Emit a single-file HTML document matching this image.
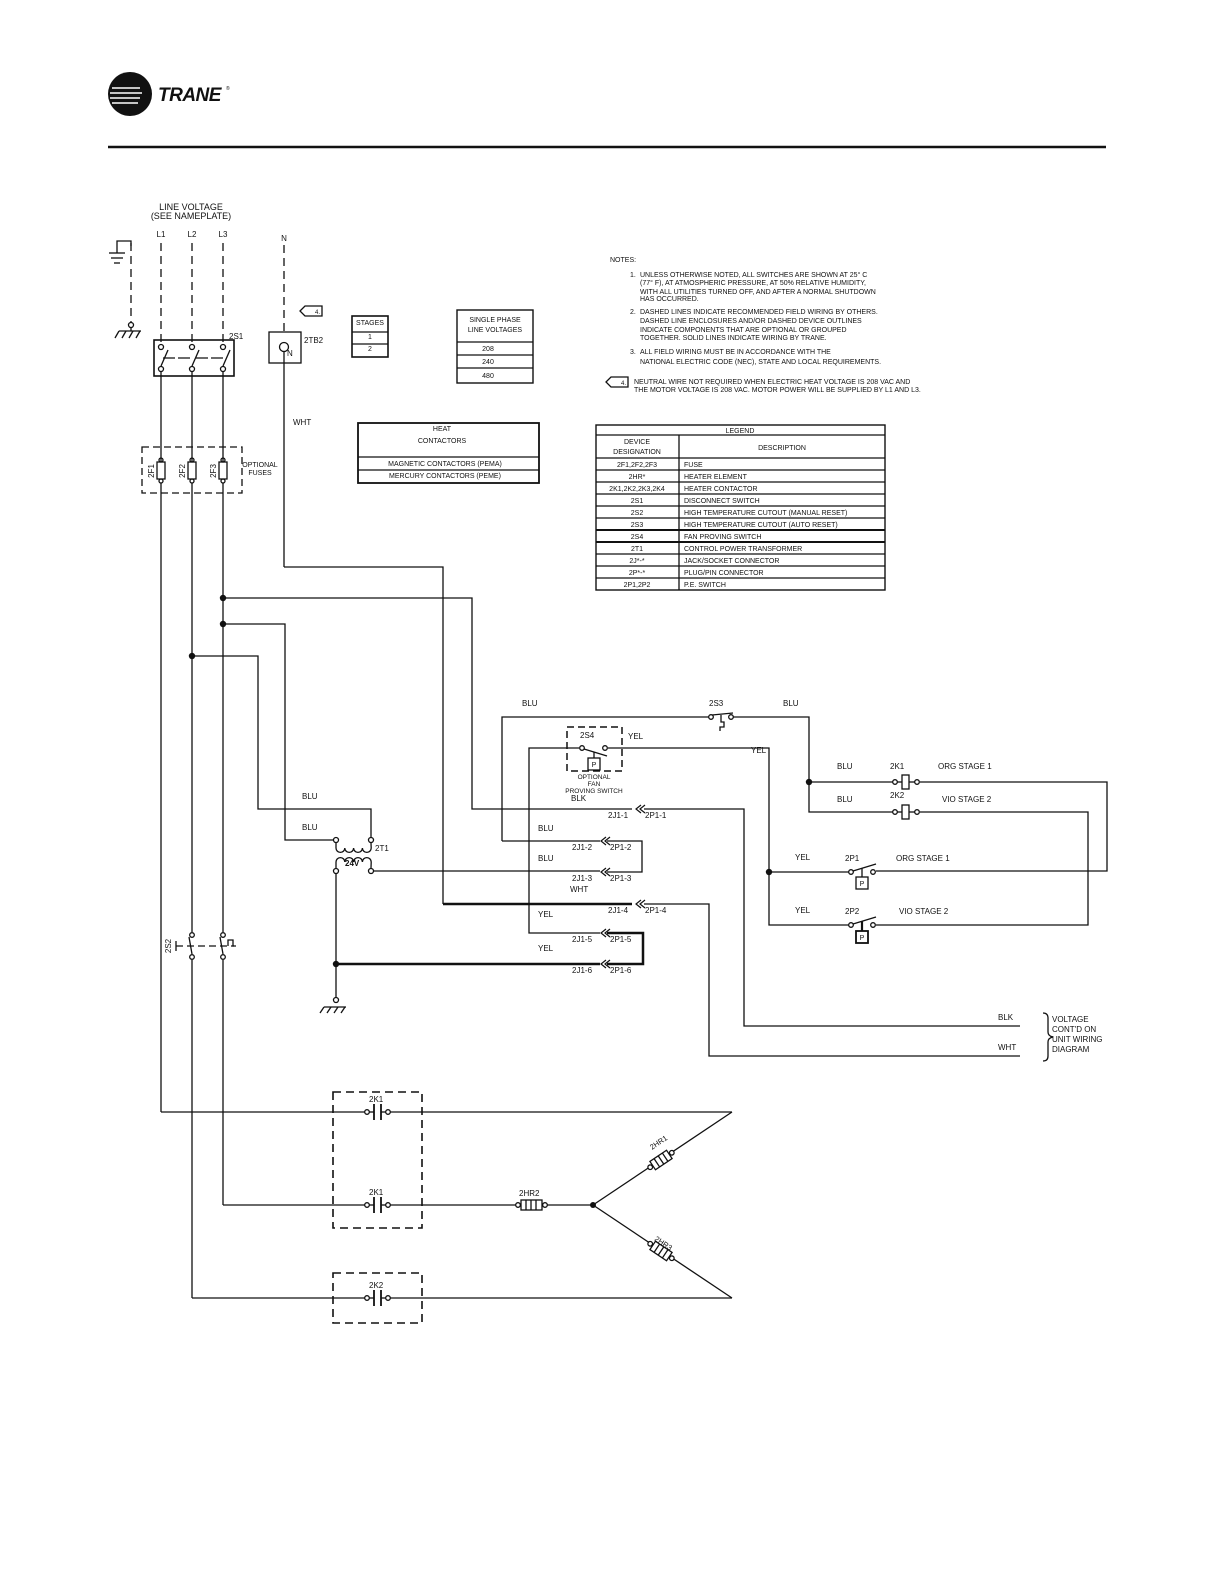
<!DOCTYPE html>
<html><head><meta charset="utf-8"><style>
html,body{margin:0;padding:0;background:#fff;}
svg{display:block;}
text{font-family:"Liberation Sans",sans-serif;fill:#111;}
</style></head><body>
<svg width="1224" height="1584" viewBox="0 0 1224 1584" xmlns="http://www.w3.org/2000/svg">
<!-- logo -->
<circle cx="130" cy="94" r="22" fill="#111"/>
<g stroke="#fff" stroke-width="1.6">
<line x1="112" y1="88" x2="140" y2="88"/><line x1="110" y1="93" x2="142" y2="93"/><line x1="110" y1="98" x2="140" y2="98"/><line x1="112" y1="103" x2="138" y2="103"/>
</g>
<text x="158" y="101" font-size="19" font-weight="bold" font-style="italic" letter-spacing="-0.5">TRANE</text>
<text x="226" y="90" font-size="5">®</text>
<line x1="108" y1="147" x2="1106" y2="147" stroke="#111" stroke-width="2.5"/>

<g fill="none" stroke="#111" stroke-width="1.3">
<g stroke-dasharray="8,5">
<line x1="161" y1="243" x2="161" y2="344"/><line x1="192" y1="243" x2="192" y2="344"/><line x1="223" y1="243" x2="223" y2="344"/>
<line x1="284" y1="245" x2="284" y2="332"/>
<line x1="131" y1="243" x2="131" y2="322"/>
</g>
<polyline points="117,253 117,241 131,241 131,246"/>
<line x1="109" y1="253" x2="125" y2="253"/><line x1="111" y1="258" x2="123" y2="258"/><line x1="114" y1="263" x2="120" y2="263"/>
<circle cx="131" cy="325" r="2.5"/>
<line x1="119" y1="331" x2="141" y2="331"/><line x1="119" y1="331" x2="115" y2="338"/><line x1="126" y1="331" x2="122" y2="338"/><line x1="133" y1="331" x2="129" y2="338"/><line x1="140" y1="331" x2="136" y2="338"/><line x1="131" y1="328" x2="131" y2="331"/>
<rect x="154" y="340" width="80" height="36" stroke-width="1.6"/>
<circle cx="161" cy="347" r="2.5"/><circle cx="192" cy="347" r="2.5"/><circle cx="223" cy="347" r="2.5"/>
<circle cx="161" cy="369" r="2.5"/><circle cx="192" cy="369" r="2.5"/><circle cx="223" cy="369" r="2.5"/>
<line x1="161" y1="366" x2="168" y2="350"/><line x1="192" y1="366" x2="199" y2="350"/><line x1="223" y1="366" x2="230" y2="350"/>
<line x1="163" y1="358" x2="193" y2="358" stroke-dasharray="12,3"/><line x1="196" y1="358" x2="225" y2="358" stroke-dasharray="12,3"/>
<line x1="161" y1="372" x2="161" y2="462"/><line x1="192" y1="372" x2="192" y2="462"/><line x1="223" y1="372" x2="223" y2="462"/>
<rect x="142" y="447" width="100" height="46" stroke-dasharray="7,4"/>
<rect x="157" y="462" width="8" height="17"/><rect x="188" y="462" width="8" height="17"/><rect x="219" y="462" width="8" height="17"/>
<circle cx="161" cy="460" r="2"/><circle cx="192" cy="460" r="2"/><circle cx="223" cy="460" r="2"/>
<circle cx="161" cy="481" r="2"/><circle cx="192" cy="481" r="2"/><circle cx="223" cy="481" r="2"/>
<line x1="161" y1="483" x2="161" y2="1112"/>
<line x1="192" y1="483" x2="192" y2="932"/><line x1="192" y1="960" x2="192" y2="1298"/>
<line x1="223" y1="483" x2="223" y2="932"/><line x1="223" y1="960" x2="223" y2="1205"/>
<circle cx="192" cy="935" r="2.3"/><circle cx="192" cy="957" r="2.3"/><circle cx="223" cy="935" r="2.3"/><circle cx="223" cy="957" r="2.3"/>
<line x1="192" y1="954" x2="189" y2="937"/><line x1="223" y1="954" x2="220" y2="937"/>
<line x1="176" y1="946" x2="234" y2="946" stroke-dasharray="7,4"/>
<line x1="176" y1="941" x2="176" y2="951"/>
<polyline points="228,946 228,940 233,940 233,946 236,946"/>
<rect x="269" y="332" width="32" height="31"/>
<circle cx="284" cy="347" r="4.5"/>
<line x1="284" y1="352" x2="284" y2="567"/>
<polyline points="284,567 443,567 443,904"/>
<path d="M300,311 L305,306 L322,306 L322,316 L305,316 Z"/>
<polyline points="223,598 472,598 472,809 632,809"/>
<polyline points="223,624 285,624 285,840 333,840"/>
<polyline points="192,656 258,656 258,809 371,809 371,837"/>
<circle cx="336" cy="840" r="2.5"/><circle cx="371" cy="840" r="2.5"/>
<circle cx="336" cy="871" r="2.5"/><circle cx="371" cy="871" r="2.5"/>
<path d="M336,843 L336,848 a4.4,4.4 0 0 0 8.8,0 a4.4,4.4 0 0 0 8.8,0 a4.4,4.4 0 0 0 8.8,0 a4.4,4.4 0 0 0 8.8,0 L371,843"/>
<path d="M336,868 L336,862 a4.4,4.4 0 0 1 8.8,0 a4.4,4.4 0 0 1 8.8,0 a4.4,4.4 0 0 1 8.8,0 a4.4,4.4 0 0 1 8.8,0 L371,868"/>
<line x1="374" y1="871" x2="600" y2="871"/>
<line x1="336" y1="874" x2="336" y2="997"/>
<circle cx="336" cy="1000" r="2.5"/>
<line x1="324" y1="1007" x2="346" y2="1007"/><line x1="324" y1="1007" x2="320" y2="1013"/><line x1="331" y1="1007" x2="327" y2="1013"/><line x1="338" y1="1007" x2="334" y2="1013"/><line x1="345" y1="1007" x2="341" y2="1013"/>
<polyline points="502,841 502,717 709,717"/>
<line x1="502" y1="841" x2="600" y2="841"/>
<polyline points="607,841 642,841 642,872 607,872"/>
<polyline points="644,809 744,809 744,1026 1020,1026"/>
<line x1="443" y1="904" x2="632" y2="904" stroke-width="2.5"/>
<polyline points="644,904 709,904 709,1056 1020,1056"/>
<polyline points="600,933 529,933 529,748 579,748"/>
<line x1="336" y1="964" x2="600" y2="964" stroke-width="2.5"/>
<polyline points="607,933 643,933 643,964 607,964" stroke-width="2.5"/>
<g stroke-width="1.2">
<path d="M641,805 L636,809 L641,813 M645,805 L640,809 L645,813"/>
<path d="M606,837 L601,841 L606,845 M610,837 L605,841 L610,845"/>
<path d="M606,868 L601,872 L606,876 M610,868 L605,872 L610,876"/>
<path d="M641,900 L636,904 L641,908 M645,900 L640,904 L645,908"/>
<path d="M606,929 L601,933 L606,937 M610,929 L605,933 L610,937"/>
<path d="M606,960 L601,964 L606,968 M610,960 L605,964 L610,968"/>
</g>
<circle cx="711" cy="717" r="2.3"/><circle cx="731" cy="717" r="2.3"/>
<line x1="712" y1="715" x2="733" y2="713"/>
<polyline points="721,715 721,722 724,722 724,727 720,727 720,731"/>
<polyline points="733,717 809,717 809,812 893,812"/>
<line x1="809" y1="782" x2="893" y2="782"/>
<rect x="567" y="727" width="55" height="44" stroke-dasharray="7,4" stroke-width="1.5"/>
<circle cx="582" cy="748" r="2.3"/><circle cx="605" cy="748" r="2.3"/>
<line x1="584" y1="749" x2="607" y2="756"/>
<line x1="594" y1="752" x2="594" y2="758"/>
<rect x="588" y="758" width="12" height="12"/>
<polyline points="608,748 769,748 769,925 849,925"/>
<line x1="769" y1="872" x2="849" y2="872"/>
<circle cx="895" cy="782" r="2.3"/><rect x="902" y="775" width="7" height="14"/><circle cx="917" cy="782" r="2.3"/>
<line x1="897" y1="782" x2="902" y2="782"/><line x1="909" y1="782" x2="915" y2="782"/>
<polyline points="920,782 1107,782 1107,871 876,871"/>
<circle cx="895" cy="812" r="2.3"/><rect x="902" y="805" width="7" height="14"/><circle cx="917" cy="812" r="2.3"/>
<line x1="897" y1="812" x2="902" y2="812"/><line x1="909" y1="812" x2="915" y2="812"/>
<polyline points="920,812 1088,812 1088,925 876,925"/>
<circle cx="851" cy="872" r="2.3"/><circle cx="873" cy="872" r="2.3"/>
<line x1="853" y1="871" x2="876" y2="864"/><line x1="862" y1="868" x2="862" y2="877"/><rect x="856" y="877" width="12" height="12"/>
<circle cx="851" cy="925" r="2.3"/><circle cx="873" cy="925" r="2.3"/>
<line x1="853" y1="924" x2="876" y2="917"/><line x1="862" y1="921" x2="862" y2="931" stroke-width="2.2"/><rect x="856" y="931" width="12" height="12" stroke-width="1.8"/>
<path d="M1043,1013 q5,0 5,5 v14 q0,4 5,5 q-5,1 -5,5 v14 q0,5 -5,5"/>
<rect x="333" y="1092" width="89" height="136" stroke-dasharray="8,5" stroke-width="1.6"/>
<rect x="333" y="1273" width="89" height="50" stroke-dasharray="8,5" stroke-width="1.6"/>
<line x1="161" y1="1112" x2="365" y2="1112"/><line x1="390" y1="1112" x2="732" y2="1112"/>
<line x1="223" y1="1205" x2="365" y2="1205"/><line x1="390" y1="1205" x2="516" y2="1205"/>
<line x1="192" y1="1298" x2="365" y2="1298"/><line x1="390" y1="1298" x2="732" y2="1298"/>
<g>
<circle cx="367" cy="1112" r="2.3"/><circle cx="388" cy="1112" r="2.3"/><line x1="369" y1="1112" x2="374" y2="1112"/><line x1="381" y1="1112" x2="386" y2="1112"/><line x1="374" y1="1104" x2="374" y2="1120" stroke-width="1.8"/><line x1="381" y1="1104" x2="381" y2="1120" stroke-width="1.8"/>
<circle cx="367" cy="1205" r="2.3"/><circle cx="388" cy="1205" r="2.3"/><line x1="369" y1="1205" x2="374" y2="1205"/><line x1="381" y1="1205" x2="386" y2="1205"/><line x1="374" y1="1197" x2="374" y2="1213" stroke-width="1.8"/><line x1="381" y1="1197" x2="381" y2="1213" stroke-width="1.8"/>
<circle cx="367" cy="1298" r="2.3"/><circle cx="388" cy="1298" r="2.3"/><line x1="369" y1="1298" x2="374" y2="1298"/><line x1="381" y1="1298" x2="386" y2="1298"/><line x1="374" y1="1290" x2="374" y2="1306" stroke-width="1.8"/><line x1="381" y1="1290" x2="381" y2="1306" stroke-width="1.8"/>
</g>
<circle cx="518" cy="1205" r="2.3"/><circle cx="545" cy="1205" r="2.3"/>
<rect x="521" y="1200" width="21" height="10"/><line x1="526" y1="1200" x2="526" y2="1210"/><line x1="531" y1="1200" x2="531" y2="1210"/><line x1="536" y1="1200" x2="536" y2="1210"/>
<line x1="547" y1="1205" x2="593" y2="1205"/>
<line x1="593" y1="1205" x2="732" y2="1112"/>
<line x1="593" y1="1205" x2="732" y2="1298"/>
<g transform="translate(661,1160) rotate(-33.8)">
<rect x="-10" y="-5" width="20" height="10" fill="#fff"/><line x1="-5" y1="-5" x2="-5" y2="5"/><line x1="0" y1="-5" x2="0" y2="5"/><line x1="5" y1="-5" x2="5" y2="5"/>
<circle cx="-13" cy="0" r="2.3" fill="#fff"/><circle cx="13" cy="0" r="2.3" fill="#fff"/>
</g>
<g transform="translate(661,1251) rotate(33.8)">
<rect x="-10" y="-5" width="20" height="10" fill="#fff"/><line x1="-5" y1="-5" x2="-5" y2="5"/><line x1="0" y1="-5" x2="0" y2="5"/><line x1="5" y1="-5" x2="5" y2="5"/>
<circle cx="-13" cy="0" r="2.3" fill="#fff"/><circle cx="13" cy="0" r="2.3" fill="#fff"/>
</g>
<rect x="352" y="316" width="36" height="41" stroke-width="1.6"/><line x1="352" y1="332" x2="388" y2="332"/><line x1="352" y1="344" x2="388" y2="344"/>
<rect x="457" y="310" width="76" height="73" stroke-width="1.4"/><line x1="457" y1="342" x2="533" y2="342"/><line x1="457" y1="355" x2="533" y2="355"/><line x1="457" y1="368" x2="533" y2="368"/>
<rect x="358" y="423" width="181" height="60" stroke-width="1.8"/><line x1="358" y1="457" x2="539" y2="457"/><line x1="358" y1="470" x2="539" y2="470"/>
<rect x="596" y="425" width="289" height="165" stroke-width="1.4"/>
<line x1="596" y1="435" x2="885" y2="435"/><line x1="679" y1="435" x2="679" y2="590"/>
<line x1="596" y1="458" x2="885" y2="458"/><line x1="596" y1="470" x2="885" y2="470"/><line x1="596" y1="482" x2="885" y2="482"/><line x1="596" y1="494" x2="885" y2="494"/><line x1="596" y1="506" x2="885" y2="506"/><line x1="596" y1="518" x2="885" y2="518"/><line x1="596" y1="530" x2="885" y2="530" stroke-width="2"/><line x1="596" y1="542" x2="885" y2="542" stroke-width="2"/><line x1="596" y1="554" x2="885" y2="554"/><line x1="596" y1="566" x2="885" y2="566"/><line x1="596" y1="578" x2="885" y2="578"/>
<path d="M606,382 L611,377 L628,377 L628,387 L611,387 Z"/>
</g>
<g fill="#111">
<circle cx="223" cy="598" r="3.2"/><circle cx="223" cy="624" r="3.2"/><circle cx="192" cy="656" r="3.2"/>
<circle cx="336" cy="964" r="3.2"/><circle cx="809" cy="782" r="3.2"/><circle cx="769" cy="872" r="3.2"/><circle cx="593" cy="1205" r="3"/>
</g>
<g font-size="9" text-anchor="middle">
<text x="191" y="210">LINE  VOLTAGE</text><text x="191" y="219">(SEE  NAMEPLATE)</text>
<text x="161" y="237" font-size="8">L1</text><text x="192" y="237" font-size="8">L2</text><text x="223" y="237" font-size="8">L3</text>
<text x="284" y="241" font-size="8">N</text>
</g>
<g font-size="8">
<text x="229" y="339">2S1</text><text x="304" y="343">2TB2</text><text x="287" y="356">N</text>
<text x="315" y="314" font-size="6">4.</text>
<text x="293" y="425">WHT</text>
<text x="522" y="706">BLU</text><text x="783" y="706">BLU</text><text x="709" y="706">2S3</text>
<text x="580" y="738">2S4</text><text x="628" y="739">YEL</text><text x="751" y="753">YEL</text>
<text x="571" y="801">BLK</text><text x="538" y="831">BLU</text><text x="538" y="861">BLU</text><text x="570" y="892">WHT</text><text x="538" y="917">YEL</text><text x="538" y="951">YEL</text>
<text x="302" y="799">BLU</text><text x="302" y="830">BLU</text>
<text x="375" y="851">2T1</text><text x="345" y="866" font-weight="bold">24V</text>
<text x="837" y="769">BLU</text><text x="837" y="802">BLU</text>
<text x="890" y="769">2K1</text><text x="890" y="798">2K2</text>
<text x="938" y="769">ORG STAGE 1</text><text x="942" y="802">VIO STAGE 2</text>
<text x="795" y="860">YEL</text><text x="795" y="913">YEL</text>
<text x="845" y="861">2P1</text><text x="845" y="914">2P2</text>
<text x="896" y="861">ORG STAGE 1</text><text x="899" y="914">VIO STAGE 2</text>
<text x="998" y="1020">BLK</text><text x="998" y="1050">WHT</text>
<text x="1052" y="1022">VOLTAGE</text><text x="1052" y="1032">CONT'D ON</text><text x="1052" y="1042">UNIT WIRING</text><text x="1052" y="1052">DIAGRAM</text>
<text x="369" y="1102">2K1</text><text x="369" y="1195">2K1</text><text x="369" y="1288">2K2</text><text x="519" y="1196">2HR2</text>
</g>
<g font-size="8">
<text x="608" y="818">2J1-1</text><text x="645" y="818">2P1-1</text>
<text x="572" y="850">2J1-2</text><text x="610" y="850">2P1-2</text>
<text x="572" y="881">2J1-3</text><text x="610" y="881">2P1-3</text>
<text x="608" y="913">2J1-4</text><text x="645" y="913">2P1-4</text>
<text x="572" y="942">2J1-5</text><text x="610" y="942">2P1-5</text>
<text x="572" y="973">2J1-6</text><text x="610" y="973">2P1-6</text>
</g>
<g font-size="7">
<text x="862" y="886" text-anchor="middle">P</text><text x="862" y="940" text-anchor="middle">P</text><text x="594" y="767" text-anchor="middle">P</text>
<text x="594" y="779" text-anchor="middle" font-size="6.5">OPTIONAL</text><text x="594" y="786" text-anchor="middle" font-size="6.5">FAN</text><text x="594" y="793" text-anchor="middle" font-size="6.5">PROVING SWITCH</text>
<text x="260" y="467" text-anchor="middle">OPTIONAL</text><text x="260" y="475" text-anchor="middle">FUSES</text>
<text transform="translate(154,471) rotate(-90)" text-anchor="middle" font-size="8">2F1</text>
<text transform="translate(185,471) rotate(-90)" text-anchor="middle" font-size="8">2F2</text>
<text transform="translate(216,471) rotate(-90)" text-anchor="middle" font-size="8">2F3</text>
<text transform="translate(171,946) rotate(-90)" text-anchor="middle" font-size="8">2S2</text>
<text transform="translate(652,1150) rotate(-33.8)" font-size="7.5">2HR1</text>
<text transform="translate(654,1240) rotate(33.8)" font-size="7.5">2HR3</text>
<g text-anchor="middle">
<text x="370" y="325">STAGES</text><text x="370" y="339">1</text><text x="370" y="351">2</text>
<text x="495" y="322">SINGLE PHASE</text><text x="495" y="332">LINE VOLTAGES</text>
<text x="488" y="351">208</text><text x="488" y="364">240</text><text x="488" y="378">480</text>
<text x="442" y="431">HEAT</text><text x="442" y="443">CONTACTORS</text>
<text x="445" y="466">MAGNETIC CONTACTORS (PEMA)</text><text x="445" y="478">MERCURY CONTACTORS (PEME)</text>
<text x="740" y="433">LEGEND</text><text x="637" y="444">DEVICE</text><text x="637" y="454">DESIGNATION</text><text x="782" y="450">DESCRIPTION</text>
<text x="637" y="467">2F1,2F2,2F3</text><text x="637" y="479">2HR*</text><text x="637" y="491">2K1,2K2,2K3,2K4</text><text x="637" y="503">2S1</text><text x="637" y="515">2S2</text><text x="637" y="527">2S3</text><text x="637" y="539">2S4</text><text x="637" y="551">2T1</text><text x="637" y="563">2J*-*</text><text x="637" y="575">2P*-*</text><text x="637" y="587">2P1,2P2</text>
</g>
<text x="684" y="467">FUSE</text><text x="684" y="479">HEATER ELEMENT</text><text x="684" y="491">HEATER CONTACTOR</text><text x="684" y="503">DISCONNECT SWITCH</text><text x="684" y="515">HIGH TEMPERATURE CUTOUT (MANUAL RESET)</text><text x="684" y="527">HIGH TEMPERATURE CUTOUT (AUTO RESET)</text><text x="684" y="539">FAN PROVING SWITCH</text><text x="684" y="551">CONTROL POWER TRANSFORMER</text><text x="684" y="563">JACK/SOCKET CONNECTOR</text><text x="684" y="575">PLUG/PIN CONNECTOR</text><text x="684" y="587">P.E. SWITCH</text>
<text x="610" y="262">NOTES:</text>
<text x="630" y="277">1.</text><text x="640" y="277">UNLESS OTHERWISE NOTED, ALL SWITCHES ARE SHOWN AT 25° C</text>
<text x="640" y="285">(77° F), AT ATMOSPHERIC PRESSURE, AT 50% RELATIVE HUMIDITY,</text>
<text x="640" y="294">WITH ALL UTILITIES TURNED OFF, AND AFTER A NORMAL SHUTDOWN</text>
<text x="640" y="301">HAS OCCURRED.</text>
<text x="630" y="314">2.</text><text x="640" y="314">DASHED LINES INDICATE RECOMMENDED FIELD WIRING BY OTHERS.</text>
<text x="640" y="323">DASHED LINE ENCLOSURES AND/OR DASHED DEVICE OUTLINES</text>
<text x="640" y="332">INDICATE COMPONENTS THAT ARE OPTIONAL OR GROUPED</text>
<text x="640" y="340">TOGETHER.  SOLID LINES INDICATE WIRING BY TRANE.</text>
<text x="630" y="354">3.</text><text x="640" y="354">ALL FIELD WIRING MUST BE IN ACCORDANCE WITH THE</text>
<text x="640" y="364">NATIONAL ELECTRIC CODE (NEC), STATE AND LOCAL REQUIREMENTS.</text>
<text x="621" y="385" font-size="6">4.</text><text x="634" y="384">NEUTRAL WIRE NOT REQUIRED WHEN ELECTRIC HEAT VOLTAGE IS 208 VAC AND</text>
<text x="634" y="392">THE MOTOR VOLTAGE IS 208 VAC. MOTOR POWER WILL BE SUPPLIED BY L1 AND L3.</text>
</g>
</svg>
</body></html>
